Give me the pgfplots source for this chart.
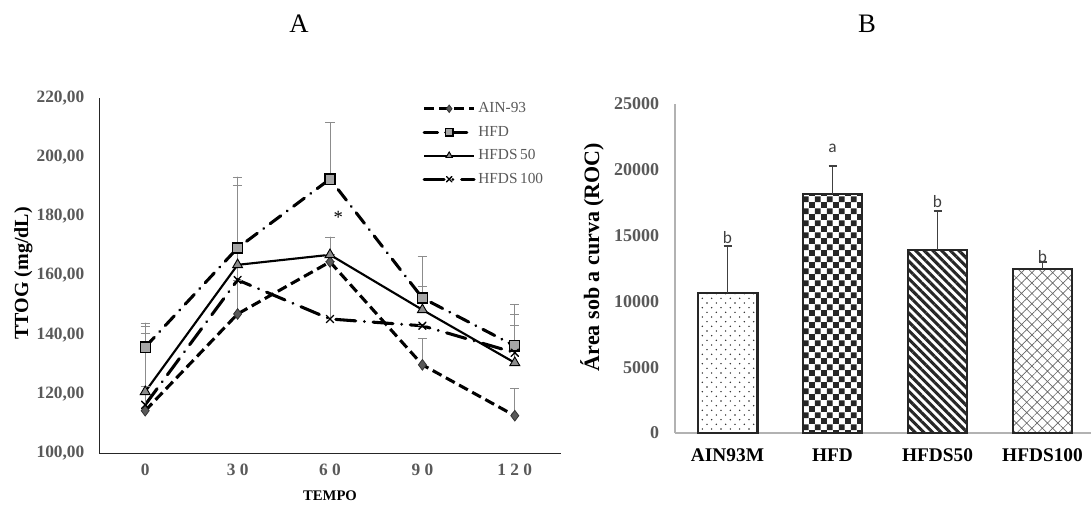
\documentclass[border=0pt]{standalone}
\usepackage{fontspec}
\setmainfont{Liberation Serif}
\newfontfamily\calib{Carlito}
\usepackage{pgfplots}
\pgfplotsset{compat=1.18}
\usetikzlibrary{patterns,patterns.meta}

\definecolor{tickgray}{HTML}{595959}
\definecolor{errgray}{HTML}{8C8C8C}
\definecolor{sqfill}{HTML}{A6A6A6}
\definecolor{trifill}{HTML}{8C8C8C}
\definecolor{diafill}{HTML}{595959}
\definecolor{barline}{HTML}{262626}

% small checkerboard and sparse dots for the bars
\pgfdeclarepatternformonly{smallcheck}{\pgfpointorigin}{\pgfqpoint{8.8pt}{8.8pt}}{\pgfqpoint{8.8pt}{8.8pt}}{%
  \pgfpathrectangle{\pgfpointorigin}{\pgfqpoint{4.45pt}{4.45pt}}%
  \pgfpathrectangle{\pgfqpoint{4.4pt}{4.4pt}}{\pgfqpoint{4.45pt}{4.45pt}}%
  \pgfusepath{fill}}
\pgfdeclarepatternformonly{sparsedots}{\pgfqpoint{-1pt}{-1pt}}{\pgfqpoint{8pt}{8pt}}{\pgfqpoint{7pt}{7pt}}{%
  \pgfpathcircle{\pgfqpoint{1.75pt}{1.75pt}}{0.6pt}%
  \pgfpathcircle{\pgfqpoint{5.25pt}{5.25pt}}{0.6pt}%
  \pgfusepath{fill}}

\pgfplotsset{
  errline/.style={error bars/y dir=plus, error bars/y explicit,
    error bars/error bar style={errgray, line width=0.6pt, solid},
    error bars/error mark options={rotate=90, errgray, mark size=3.5pt, line width=0.6pt, solid}},
  onebar/.style={ybar, bar width=0.57, bar shift=0pt, draw=barline, line width=1.6pt,
    error bars/y dir=plus, error bars/y explicit,
    error bars/error bar style={black!75, line width=1.1pt},
    error bars/error mark options={rotate=90, black!75, mark size=3pt, line width=1.1pt}},
}

\begin{document}
\begin{tikzpicture}
\path[use as bounding box] (0,0) rectangle (818.25pt,379.5pt);

% ---------- A ----------
\begin{axis}[
  at={(74.25pt,39.75pt)}, anchor=south west,
  scale only axis, width=346.5pt, height=266.25pt,
  xmin=-0.5, xmax=4.5, ymin=100, ymax=220,
  xtick={0,...,4}, xticklabels={0,3 0,6 0,9 0,1 2 0},
  ytick={100,120,...,220},
  axis x line*=bottom, axis y line*=left,
  axis line style={-, black!85, line width=0.6pt},
  major tick length=0pt,
  tick label style={font=\bfseries\fontsize{13}{15}\selectfont, text=tickgray},
  yticklabel style={/pgf/number format/fixed, /pgf/number format/fixed zerofill,
    /pgf/number format/precision=2, /pgf/number format/use comma,
    /pgf/number format/assume math mode=true},
  yticklabel shift=7.5pt, xticklabel shift=4.5pt,
  clip=false,
  legend style={draw=none, fill=none, at={(0.70,0.995)}, anchor=north west,
    font=\fontsize{11.5}{13}\selectfont, text=tickgray, row sep=4.5pt,
    inner sep=0pt, cells={anchor=west}},
  legend image code/.code={\draw[mark repeat=2,mark phase=2,#1]
    plot coordinates {(0pt,0pt)(18.75pt,0pt)(37.5pt,0pt)};},
  legend image post style={mark size=2.8pt},
]
\addplot[black, line width=2.3pt, dash pattern=on 7.5pt off 3.75pt,
  mark=diamond*, mark size=4pt, mark options={solid, fill=diafill, draw=black!80, line width=0.6pt},
  errline] coordinates {
  (0,114.3) +- (0,26.0) (1,147.0) +- (0,43.6) (2,164.6) +- (0,0)
  (3,129.8) +- (0,8.8) (4,112.6) +- (0,9.1)};
\addlegendentry{AIN-93}
\addplot[black, line width=2.3pt, line cap=round, dash pattern=on 10pt off 6pt on 0.01pt off 6pt,
  mark=square*, mark size=3.8pt, mark options={solid, fill=sqfill, draw=black, line width=0.9pt},
  errline] coordinates {
  (0,135.8) +- (0,8.1) (1,169.3) +- (0,24.0) (2,192.6) +- (0,19.0)
  (3,152.4) +- (0,13.9) (4,136.2) +- (0,13.9)};
\addlegendentry{HFD}
\addplot[black, line width=1.6pt,
  mark=triangle*, mark size=4.3pt, mark options={solid, fill=trifill, draw=black, line width=0.7pt},
  errline] coordinates {
  (0,120.7) +- (0,1.7) (1,163.6) +- (0,27.0) (2,167.0) +- (0,0)
  (3,148.4) +- (0,7.9) (4,130.5) +- (0,16.2)};
\addlegendentry{HFDS\,50}
\addplot[black, line width=2.3pt, line cap=round, dash pattern=on 15pt off 6.5pt on 0.01pt off 6.5pt,
  mark=x, mark size=3.8pt, mark options={solid, draw=black, line width=1pt},
  errline] coordinates {
  (0,116.3) +- (0,26.5) (1,158.5) +- (0,0) (2,145.3) +- (0,27.7)
  (3,143.0) +- (0,0) (4,133.9) +- (0,9.4)};
\addlegendentry{HFDS\,100}
\node[font=\fontsize{14}{16}\selectfont] at (axis cs:2.09,179.5) {*};
\end{axis}

% ---------- B ----------
\begin{axis}[
  at={(506.25pt,54.75pt)}, anchor=south west,
  scale only axis, width=312pt, height=246.75pt,
  xmin=-0.5, xmax=3.462, ymin=0, ymax=25000,
  xtick={0,1,2,3}, xticklabels={AIN93M,HFD,HFDS50,HFDS100},
  ytick={0,5000,...,25000}, scaled y ticks=false,
  axis x line*=bottom, axis y line*=left,
  axis line style={-, black!30, line width=0.8pt},
  major tick length=0pt,
  xticklabel style={font=\bfseries\fontsize{14.5}{16}\selectfont, text=black},
  yticklabel style={font=\bfseries\fontsize{13.5}{15}\selectfont, text=tickgray,
    /pgf/number format/set thousands separator={},
    /pgf/number format/assume math mode=true},
  yticklabel shift=8.3pt, xticklabel shift=8.4pt,
  clip=false,
]
\addplot[onebar, pattern=sparsedots, pattern color=black!85] coordinates {(0,10640) +- (0,3570)};
\addplot[onebar, pattern=smallcheck, pattern color=barline] coordinates {(1,18160) +- (0,2130)};
\addplot[onebar, pattern={Lines[angle=-45,distance=4.6pt,line width=2.3pt]}, pattern color=barline] coordinates {(2,13900) +- (0,2970)};
\addplot[onebar, pattern={Hatch[angle=45,distance=5.5pt,line width=0.5pt]}, pattern color=black!60] coordinates {(3,12460) +- (0,530)};
\node[font=\calib\fontsize{13}{15}\selectfont, text=black!75, anchor=base] at (axis cs:0,14437) {b};
\node[font=\calib\fontsize{13}{15}\selectfont, text=black!75, anchor=base] at (axis cs:1,21350) {a};
\node[font=\calib\fontsize{13}{15}\selectfont, text=black!75, anchor=base] at (axis cs:2,17170) {b};
\node[font=\calib\fontsize{13}{15}\selectfont, text=black!75, anchor=base] at (axis cs:3,12990) {b};
\end{axis}

% labels and panel letters
\node[rotate=90, font=\bfseries\fontsize{15}{17}\selectfont] at (17.6pt,174.4pt) {TTOG (mg/dL)};
\node[font=\bfseries\fontsize{11}{13}\selectfont] at (247.5pt,8pt) {TEMPO};
\node[rotate=90, font=\bfseries\fontsize{16.5}{18}\selectfont] at (444pt,186.75pt) {Área sob a curva (ROC)};
\node[font=\fontsize{20}{22}\selectfont] at (224.25pt,361.9pt) {A};
\node[font=\fontsize{20}{22}\selectfont] at (650.25pt,361.9pt) {B};
\end{tikzpicture}
\end{document}
